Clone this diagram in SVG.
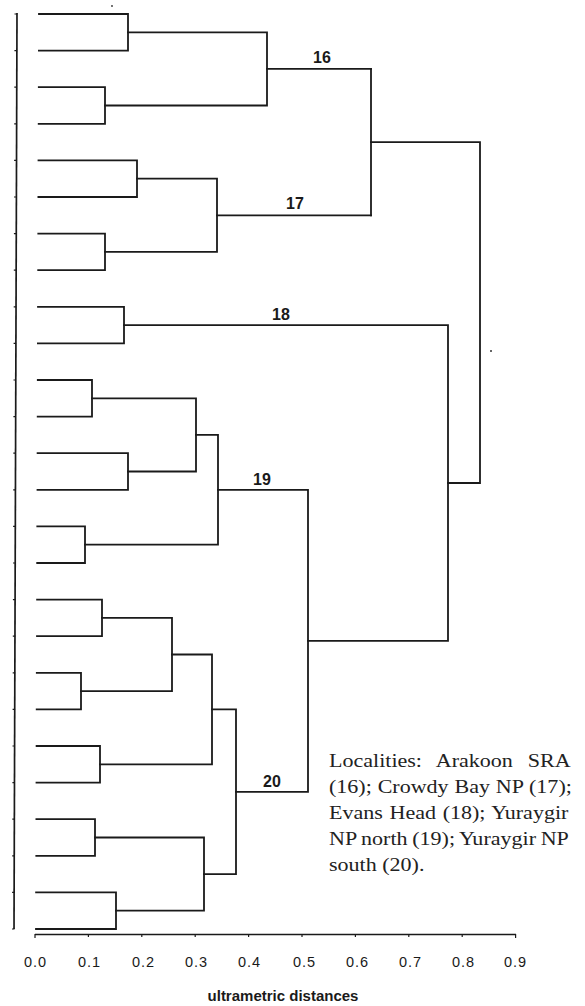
<svg xmlns="http://www.w3.org/2000/svg" width="585" height="1006" viewBox="0 0 585 1006">
<style>
.ln{fill:none;stroke:#1a1a1a;stroke-width:1.8;stroke-linecap:square;stroke-linejoin:miter}
.ax{fill:none;stroke:#1a1a1a;stroke-width:1.7}
.tk{fill:none;stroke:#1a1a1a;stroke-width:1.2}
.cl{font-family:"Liberation Sans",Arial,sans-serif;font-weight:bold;font-size:16px;fill:#1a1a1a;text-anchor:middle}
.tl{font-family:"Liberation Sans",Arial,sans-serif;font-size:14.5px;fill:#1a1a1a;text-anchor:middle}
.xl{font-family:"Liberation Sans",Arial,sans-serif;font-weight:bold;font-size:15px;fill:#1a1a1a;text-anchor:middle}
.lg{font-family:"Liberation Serif","Times New Roman",serif;font-size:19px;fill:#222}
</style>
<rect width="585" height="1006" fill="#ffffff"/>

<g id="axis-left">
<path class="ax" d="M17 13 L14 929"/>
<path class="tk" d="M17 14h-2.5M16.9 50.6h-2.5M16.8 87.2h-2.5M16.7 123.8h-2.5M16.6 160.4h-2.5M16.5 197h-2.5M16.4 233.6h-2.5M16.3 270.2h-2.5M16.2 306.8h-2.5M16.1 343.4h-2.5M16 380h-2.5M15.9 416.6h-2.5M15.8 453.2h-2.5M15.7 489.8h-2.5M15.6 526.4h-2.5M15.5 563h-2.5M15.4 599.6h-2.5M15.3 636.2h-2.5M15.2 672.8h-2.5M15.1 709.4h-2.5M15 746h-2.5M14.9 782.6h-2.5M14.8 819.2h-2.5M14.7 855.8h-2.5M14.6 892.4h-2.5M14.5 929h-2.5"/>
</g>

<g id="axis-bottom">
<path class="ax" d="M35 934.5 H516"/>
<path class="tk" d="M35 934v4M88.4 934v3M141.8 934v3M195.2 934v3M248.6 934v3M302 934v3M355.4 934v3M408.8 934v3M462.2 934v3M515.6 934v4"/>
<text class="tl" x="35" y="967" textLength="22">0.0</text>
<text class="tl" x="89" y="967" textLength="22">0.1</text>
<text class="tl" x="143" y="967" textLength="22">0.2</text>
<text class="tl" x="196" y="967" textLength="22">0.3</text>
<text class="tl" x="249" y="967" textLength="22">0.4</text>
<text class="tl" x="304" y="967" textLength="22">0.5</text>
<text class="tl" x="357" y="967" textLength="22">0.6</text>
<text class="tl" x="410" y="967" textLength="22">0.7</text>
<text class="tl" x="463" y="967" textLength="22">0.8</text>
<text class="tl" x="515" y="967" textLength="22">0.9</text>
<text class="xl" x="283" y="1001">ultrametric distances</text>
</g>

<g id="connectors">
<path class="ln" d="M39 14 H128 V50.6 H38.9"/>
<path class="ln" d="M38.8 87.2 H105 V123.8 H38.7"/>
<path class="ln" d="M38.5 160.4 H137 V197 H38.4"/>
<path class="ln" d="M38.3 233.6 H105 V270.2 H38.2"/>
<path class="ln" d="M38 306.8 H124 V343.4 H37.9"/>
<path class="ln" d="M37.8 380 H92 V416.6 H37.7"/>
<path class="ln" d="M37.6 453.2 H128 V489.8 H37.5"/>
<path class="ln" d="M37.3 526.4 H85 V563 H37.2"/>
<path class="ln" d="M37.1 599.6 H102 V636.2 H37"/>
<path class="ln" d="M36.8 672.8 H81 V709.4 H36.7"/>
<path class="ln" d="M36.6 746 H100 V782.6 H36.5"/>
<path class="ln" d="M36.4 819.2 H95 V855.8 H36.3"/>
<path class="ln" d="M36.1 892.4 H116 V929 H36"/>
<path class="ln" d="M128 32.3 H267 V105.5 H105"/>
<path class="ln" d="M267 68.9 H371"/>
<path class="ln" d="M137 178.7 H217 V251.9 H105"/>
<path class="ln" d="M217 215.3 H371"/>
<path class="ln" d="M371 68.9 V215.3"/>
<path class="ln" d="M371 142.1 H480 V483 H448"/>
<path class="ln" d="M124 325.1 H448 V640.8 H308"/>
<path class="ln" d="M92 398.3 H196 V471.5 H128"/>
<path class="ln" d="M196 434.9 H218 V544.7 H85"/>
<path class="ln" d="M218 489.8 H308 V791.8 H236"/>
<path class="ln" d="M102 617.9 H172 V691.1 H81"/>
<path class="ln" d="M172 654.5 H212 V764.3 H100"/>
<path class="ln" d="M95 837.5 H204 V910.7 H116"/>
<path class="ln" d="M212 709.4 H236 V874.1 H204"/>
</g>

<g id="label-16"><text class="cl" x="322" y="63">16</text></g>
<g id="label-17"><text class="cl" x="295" y="209">17</text></g>
<g id="label-18"><text class="cl" x="281" y="320">18</text></g>
<g id="label-19"><text class="cl" x="262" y="485">19</text></g>
<g id="label-20"><text class="cl" x="272" y="787">20</text></g>

<g id="legend" transform="translate(329,0) scale(1.16,1)">
<text class="lg" x="0" y="767" word-spacing="8.2">Localities: Arakoon SRA</text>
<text class="lg" x="0" y="793" word-spacing="0.3">(16); Crowdy Bay NP (17);</text>
<text class="lg" x="0" y="819" word-spacing="1">Evans Head (18); Yuraygir</text>
<text class="lg" x="0" y="845" word-spacing="-0.7">NP north (19); Yuraygir NP</text>
<text class="lg" x="0" y="871">south (20).</text>
</g>

<circle cx="112" cy="6" r="0.9" fill="#333"/>
<circle cx="491" cy="351" r="1" fill="#333"/>
</svg>
